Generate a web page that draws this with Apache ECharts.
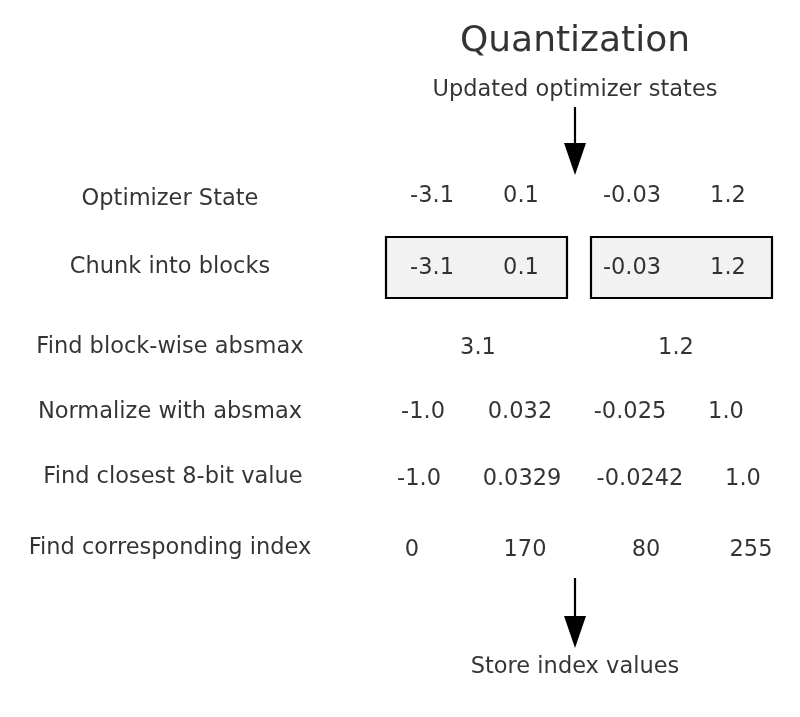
<!DOCTYPE html>
<html><head><meta charset="utf-8">
<script src="https://cdn.jsdelivr.net/npm/echarts@6/dist/echarts.min.js"></script>
<style>html,body{margin:0;padding:0;background:#fff}#c{width:800px;height:717px}</style>
</head><body><div id="c"></div>
<script>
const rowLabels = [
  ["Optimizer State",170,199],["Chunk into blocks",170,267],["Find block-wise absmax",170,347],
  ["Normalize with absmax",170,412],["Find closest 8-bit value",173,477],["Find corresponding index",170,548]
];
const values = [
  ["-3.1",432,196],["0.1",521,196],["-0.03",632,196],["1.2",728,196],
  ["-3.1",432,268],["0.1",521,268],["-0.03",632,268],["1.2",728,268],
  ["3.1",478,348],["1.2",676,348],
  ["-1.0",423,412],["0.032",520,412],["-0.025",630,412],["1.0",726,412],
  ["-1.0",419,479],["0.0329",522,479],["-0.0242",640,479],["1.0",743,479],
  ["0",412,550],["170",525,550],["80",646,550],["255",751,550]
];
const titles = [["Quantization",575,42,36],["Updated optimizer states",575,90,22.5],["Store index values",575,667,22.5]];
const boxes = [[386,237,567,298],[591,237,772,298]];
const arrows = [[575,107,575,175],[575,578,575,648]];
const F = "DejaVu Sans";
const textSeries = (data, size) => ({
  type:'scatter', symbolSize:0, silent:true,
  data: data.map(d=>({value:[d[1],d[2]], name:d[0]})),
  label:{show:true, position:'inside', color:'#000', fontFamily:F,
    formatter:p=>p.name, fontSize:size},
  z:5
});
const chart = echarts.init(document.getElementById('c'));
const tSeries = titles.map(t=>textSeries([t], t[3]));
chart.setOption({
  animation:false,
  grid:{left:0,right:0,top:0,bottom:0},
  xAxis:{type:'value',min:0,max:800,show:false},
  yAxis:{type:'value',min:0,max:717,inverse:true,show:false},
  series:[
    {type:'custom', silent:true, data:boxes, z:1,
      renderItem:(p,api)=>{const a=api.coord([api.value(0),api.value(1)]),b=api.coord([api.value(2),api.value(3)]);
        return {type:'rect',shape:{x:a[0],y:a[1],width:b[0]-a[0],height:b[1]-a[1]},style:{fill:'#f2f2f2',stroke:'#000',lineWidth:2.2}};}},
    {type:'custom', silent:true, data:arrows, z:2,
      renderItem:(p,api)=>{const a=api.coord([api.value(0),api.value(1)]),b=api.coord([api.value(2),api.value(3)]);
        return {type:'group',children:[
          {type:'line',shape:{x1:a[0],y1:a[1],x2:b[0],y2:b[1]-20},style:{stroke:'#000',lineWidth:2.2}},
          {type:'polygon',shape:{points:[[b[0]-11,b[1]-32],[b[0]+11,b[1]-32],[b[0],b[1]]]},style:{fill:'#000'}}]};}},
    textSeries(rowLabels,22.5),
    textSeries(values,22.5),
    ...tSeries
  ]
});
</script></body></html>
